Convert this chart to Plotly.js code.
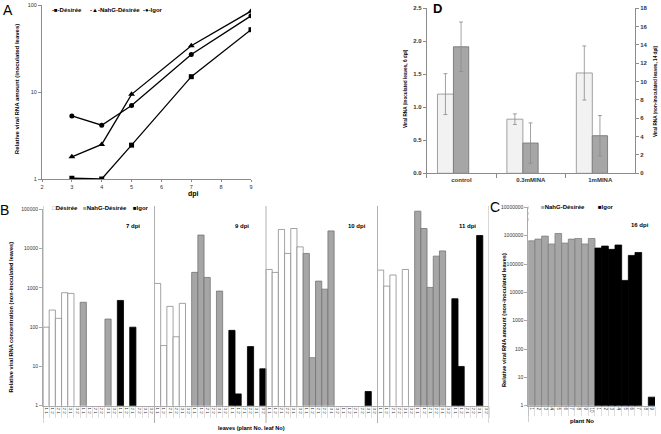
<!DOCTYPE html>
<html><head><meta charset="utf-8">
<script src="https://cdn.plot.ly/plotly-3.0.1.min.js"></script>
<style>html,body{margin:0;padding:0;background:#fff}#chart{width:661px;height:434px}</style>
</head><body><div id="chart"></div>
<script>
// ---------- Panel A: inoculated leaves over time ----------
const dpiA = [3, 4, 5, 7, 9];
const desireeA = [1.02, 1.0, 2.45, 15, 52];
const nahgA = [1.8, 2.5, 9.4, 34, 85];
const igorA = [5.3, 4.15, 7.0, 27, 75];

// ---------- Panel D: INA treatment ----------
const dCategories = ['control', '0.3mMINA', '1mMINA'];
const dInoculated = [1.2, 0.82, 1.52];
const dInoculatedErr = [0.31, 0.08, 0.41];
const dNonInoculated = [13.8, 3.3, 4.1];
const dNonInoculatedErr = [2.7, 2.2, 2.2];

// ---------- Panel B: non-inoculated leaves (6 leaves per cultivar per day) ----------
const bDays = ['7 dpi', '9 dpi', '10 dpi', '11 dpi'];
const bLeafLabels = ['1 1', '1 2', '2 1', '2 2', '3 1', '3 2'];
const bDesiree = [100, 273, 168, 755, 725, null,
                  1300, 34, 339, 57, 404, null,
                  2950, 2480, 30800, 7550, 32600, 11100,
                  2840, 1110, 2130, null, 2950, null];
const bNahg = [430, null, null, null, 161, null,
               2490, 22200, 1850, null, 830, null,
               7560, 16.7, 1490, 930, 28300, null,
               90000, 32600, 1030, 6450, 8770, null];
const bIgor = [480, null, 100, null, null, null,
               83, 2.0, null, 32, null, 8.7,
               null, null, null, null, 2.3, null,
               530, 10, null, null, 21600, null];

// ---------- Panel C: 16 dpi per plant ----------
const cNahgPlants = ['1', '2', '3', '4', '5', '6', '7', '8', '9', '10'];
const cNahg = [660000, 760000, 970000, 510000, 1200000, 550000, 760000, 800000, 510000, 800000];
const cIgorPlants = ['1', '2', '3', '4', '5', '6', '7', '8', '9'];
const cIgor = [367000, 431000, 330000, 470000, 26500, 202000, 256000, null, 2];

const FONT = 'Liberation Sans, Arial, sans-serif';
const W = 661, H = 434;
const px = v => v / W;
const py = v => 1 - v / H;

const traces = [];
// A
const lineStyle = {color: '#000', width: 1.3};
traces.push({type: 'scatter', mode: 'lines+markers', name: 'Désirée', x: dpiA, y: desireeA, xaxis: 'x', yaxis: 'y',
  line: lineStyle, marker: {symbol: 'square', size: 5, color: '#000'}, showlegend: false});
traces.push({type: 'scatter', mode: 'lines+markers', name: 'NahG-Désirée', x: dpiA, y: nahgA, xaxis: 'x', yaxis: 'y',
  line: lineStyle, marker: {symbol: 'triangle-up', size: 6, color: '#000'}, showlegend: false});
traces.push({type: 'scatter', mode: 'lines+markers', name: 'Igor', x: dpiA, y: igorA, xaxis: 'x', yaxis: 'y',
  line: lineStyle, marker: {symbol: 'circle', size: 5, color: '#000'}, showlegend: false});

// D
traces.push({type: 'bar', name: 'inoculated leaves, 6 dpi', x: dCategories, y: dInoculated, xaxis: 'x2', yaxis: 'y2',
  offset: -0.345, width: 0.23, marker: {color: '#f2f2f2', line: {color: '#a0a0a0', width: 1}},
  error_y: {type: 'data', array: dInoculatedErr, color: '#8a8a8a', thickness: 0.8, width: 2}, showlegend: false});
traces.push({type: 'bar', name: 'non-inoculated leaves, 14 dpi', x: dCategories, y: dNonInoculated, xaxis: 'x2', yaxis: 'y3',
  offset: -0.115, width: 0.22, marker: {color: '#a6a6a6', line: {color: '#808080', width: 1}},
  error_y: {type: 'data', array: dNonInoculatedErr, color: '#8a8a8a', thickness: 0.8, width: 2}, showlegend: false});

// B
const perDay = 18, perCult = 6;
function bX(cult, vals) { return vals.map((v, i) => Math.floor(i / perCult) * perDay + cult * perCult + (i % perCult)); }
const bStyles = [
  {name: 'Désirée', vals: bDesiree, fill: '#ffffff', line: '#8c8c8c'},
  {name: 'NahG-Désirée', vals: bNahg, fill: '#a6a6a6', line: '#737373'},
  {name: 'Igor', vals: bIgor, fill: '#000000', line: '#000000'}
];
bStyles.forEach((s, c) => traces.push({type: 'bar', name: s.name, x: bX(c, s.vals), y: s.vals, xaxis: 'x3', yaxis: 'y4',
  width: 1, marker: {color: s.fill, line: {color: s.line, width: 0.8}}, showlegend: false}));
const bTickVals = [], bTickText = [];
for (let d = 0; d < bDays.length; d++) for (let c = 0; c < 3; c++) bLeafLabels.forEach((l, k) => {
  bTickVals.push(d * perDay + c * perCult + k); bTickText.push(l);
});

// C
traces.push({type: 'bar', name: 'NahG-Désirée', x: cNahg.map((v, i) => i), y: cNahg, xaxis: 'x4', yaxis: 'y5',
  width: 1, marker: {color: '#a6a6a6', line: {color: '#808080', width: 0.8}}, showlegend: false});
traces.push({type: 'bar', name: 'Igor', x: cIgor.map((v, i) => cNahg.length + i), y: cIgor, xaxis: 'x4', yaxis: 'y5',
  width: 1, marker: {color: '#000', line: {color: '#000', width: 0.8}}, showlegend: false});
const cTickText = cNahgPlants.concat(cIgorPlants);
const cTickVals = cTickText.map((t, i) => i);

const tickF = (s, w) => ({family: FONT, size: s, color: '#333', weight: w || 'normal'});
const baseAx = {showgrid: false, zeroline: false, showline: true, linecolor: '#8c8c8c', linewidth: 1,
  ticks: 'outside', ticklen: 3, tickcolor: '#8c8c8c', tickwidth: 1};

const logVals = n => Array.from({length: n + 1}, (_, i) => Math.pow(10, i));
const logText = n => logVals(n).map(v => String(v));

const layout = {
  width: W, height: H, margin: {l: 0, r: 0, t: 0, b: 0}, paper_bgcolor: '#fff', plot_bgcolor: 'rgba(0,0,0,0)',
  font: {family: FONT, color: '#000'}, barmode: 'overlay', showlegend: false,
  xaxis: Object.assign({}, baseAx, {domain: [px(42), px(251)], anchor: 'y', range: [2, 9], dtick: 1, ticklen: 2,
    tickfont: tickF(5.5)}),
  yaxis: Object.assign({}, baseAx, {domain: [py(179), py(5)], anchor: 'x', type: 'log', range: [0, 2],
    tickvals: logVals(2), ticktext: logText(2), tickfont: tickF(5.5)}),
  xaxis2: Object.assign({}, baseAx, {domain: [px(426.7), px(635)], anchor: 'y2', type: 'category', tickson: 'boundaries',
    tickfont: tickF(6, 'bold'), ticklen: 4}),
  yaxis2: Object.assign({}, baseAx, {domain: [py(173.3), py(8.3)], anchor: 'x2', range: [0, 2.5], dtick: 0.5,
    tickformat: '.1f', tickfont: tickF(6, 'bold')}),
  yaxis3: Object.assign({}, baseAx, {overlaying: 'y2', side: 'right', anchor: 'x2', range: [0, 18], dtick: 2,
    tickfont: tickF(6, 'bold')}),
  xaxis3: Object.assign({}, baseAx, {domain: [px(43), px(489)], anchor: 'y4', range: [-0.5, 71.5], ticks: '',
    tickmode: 'array', tickvals: bTickVals, ticktext: bTickText, tickangle: 90, tickfont: tickF(4.3), linecolor: '#aaa',
    minor: {tickmode: 'linear', tick0: 0.5, dtick: 1, ticks: 'outside', ticklen: 11, tickcolor: '#c8c8c8', tickwidth: 0.6}}),
  yaxis4: Object.assign({}, baseAx, {domain: [py(405.7), py(209.4)], anchor: 'x3', type: 'log', range: [0, 5],
    tickvals: logVals(5), ticktext: logText(5), tickfont: tickF(5), linecolor: '#aaa', tickcolor: '#aaa'}),
  xaxis4: Object.assign({}, baseAx, {domain: [px(528.3), px(655)], anchor: 'y5', range: [-0.5, 18.5], ticks: '',
    tickmode: 'array', tickvals: cTickVals, ticktext: cTickText, tickangle: 90, tickfont: tickF(4.5), linecolor: '#aaa',
    minor: {tickmode: 'linear', tick0: 0.5, dtick: 1, ticks: 'outside', ticklen: 9, tickcolor: '#c8c8c8', tickwidth: 0.6}}),
  yaxis5: Object.assign({}, baseAx, {domain: [py(405.7), py(207.4)], anchor: 'x4', type: 'log', range: [0, 7],
    tickvals: logVals(7), ticktext: logText(7), tickfont: tickF(5), linecolor: '#aaa', tickcolor: '#aaa'}),
  shapes: [],
  annotations: []
};

// B group separators (category boundaries between days)
for (let d = 0; d <= bDays.length; d++) {
  layout.shapes.push({type: 'line', xref: 'x3', yref: 'paper', x0: d * perDay - 0.5, x1: d * perDay - 0.5,
    y0: py(423), y1: py(206), line: {color: '#b0b0b0', width: 1}});
}
layout.shapes.push({type: 'line', xref: 'x4', yref: 'paper', x0: -0.5, x1: -0.5, y0: py(422), y1: py(405.7),
  line: {color: '#aaa', width: 1}});
layout.shapes.push({type: 'line', xref: 'x4', yref: 'paper', x0: -0.5, x1: -0.5, y0: py(221), y1: py(205),
  line: {color: '#bbb', width: 1, dash: 'dot'}});

function ann(text, x, y, size, opts) {
  layout.annotations.push(Object.assign({text: text, xref: 'paper', yref: 'paper', x: px(x), y: py(y),
    showarrow: false, xanchor: 'center', yanchor: 'middle', font: {family: FONT, size: size, color: '#000'}}, opts || {}));
}
// panel letters
ann('A', 7.5, 9.5, 14);
ann('B', 4.5, 210, 14);
ann('C', 495, 207, 14);
ann('<b>D</b>', 437.5, 9, 13);

// axis titles
ann('<b>Relative viral RNA amount (inoculated leaves)</b>', 16.7, 89.5, 6, {textangle: -90});
ann('<b>dpi</b>', 193, 194, 7);
ann('<b>Relative viral RNA concentration (non-inoculated leaves)</b>', 10.5, 317, 5.6, {textangle: -90});
ann('<b>leaves (plant No. leaf No)</b>', 251, 428, 5.6);
ann('<b>Relative viral RNA amount (non-inoculated leaves)</b>', 504, 320, 5.6, {textangle: -90});
ann('<b>plant No</b>', 582, 421, 6);
ann('<b>Viral RNA (inoculated leaves, 6 dpi)</b>', 406, 89, 4.7, {textangle: -90});
ann('<b>Viral RNA (non-inoculated leaves, 14 dpi)</b>', 655, 91, 4.7, {textangle: -90});

// day labels
const dayRight = [142, 251, 368, 478];
bDays.forEach((t, i) => ann('<b>' + t + '</b>', dayRight[i], 226, 6, {xanchor: 'right'}));
ann('<b>16 dpi</b>', 651, 225, 6, {xanchor: 'right'});

// legends
ann('<b>-■-Désirée</b>', 50, 10, 6, {xanchor: 'left'});
ann('<b>-▲-NahG-Désirée</b>', 88, 10, 6, {xanchor: 'left'});
ann('<b>-●-Igor</b>', 141, 10, 6, {xanchor: 'left'});
ann('<b><span style="color:#888">□</span>Désirée</b>', 50, 208, 6, {xanchor: 'left'});
ann('<b><span style="color:#a6a6a6">■</span>NahG-Désirée</b>', 81, 208, 6, {xanchor: 'left'});
ann('<b>■Igor</b>', 131, 208, 6, {xanchor: 'left'});
ann('<b><span style="color:#a6a6a6">■</span>NahG-Désirée</b>', 539, 207, 6, {xanchor: 'left'});
ann('<b>■Igor</b>', 596, 207, 6, {xanchor: 'left'});

Plotly.newPlot('chart', traces, layout, {displayModeBar: false, staticPlot: true});
</script>
</body></html>
